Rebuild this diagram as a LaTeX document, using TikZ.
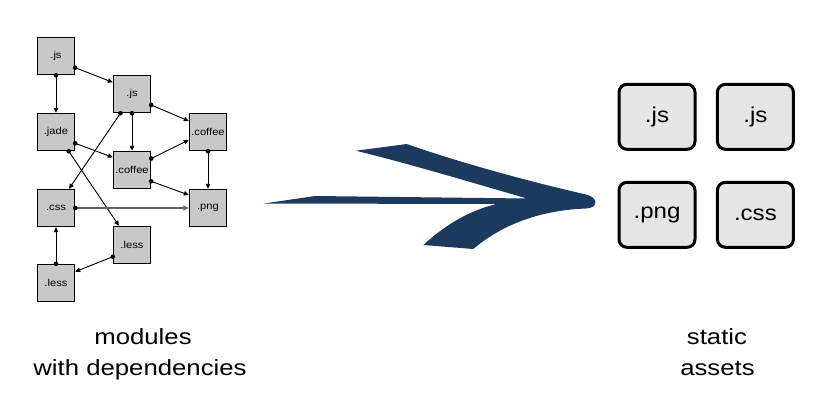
\documentclass[tikz,border=0pt]{standalone}
\usepackage{fontspec}
\setmainfont{Liberation Sans}
\usetikzlibrary{arrows.meta,calc}
\definecolor{boxgray}{RGB}{200,200,200}
\definecolor{bigfill}{RGB}{230,230,230}
\definecolor{navy}{RGB}{28,58,94}
\definecolor{linegray}{RGB}{100,100,100}
\newcommand\wideText[1]{\scalebox{1.12}[1]{#1}}
\newcommand\wideLabel[1]{\scalebox{1.17}[1]{#1}}
\tikzset{
  sbox/.style={draw, line width=1.4pt, fill=boxgray, minimum size=37pt, inner sep=0pt,
    font=\fontsize{10}{12}\selectfont},
  bbox/.style={draw, line width=3pt, rounded corners=8pt, fill=bigfill,
    minimum width=76pt, minimum height=65pt, inner sep=0pt,
    font=\fontsize{21.5}{25}\selectfont},
  dep/.style={line width=0.9pt, -{Triangle[length=5pt,width=4.5pt]}},
  lbl/.style={anchor=base, inner sep=0pt, font=\fontsize{22}{26}\selectfont},
}
\newcommand\depline[3][black]{%
  \draw[dep, draw=#1, fill=#1] #2 -- #3;
  \fill[#1] #2 circle (2.3pt);}
\begin{document}
\begin{tikzpicture}[x=1pt,y=-1pt]
\useasboundingbox (0,0) rectangle (831,416);
% small modules
\node[sbox] (A) at (56,56) {\wideText{.js}};
\node[sbox] (B) at (132,94) {\wideText{.js}};
\node[sbox] (C) at (56,132) {\wideText{.jade}};
\node[sbox] (D) at (208,132) {\wideText{.coffee}};
\node[sbox] (E) at (132,170) {\wideText{.coffee}};
\node[sbox] (F) at (56,208) {\wideText{.css}};
\node[sbox] (G) at (208,208) {\wideText{.png}};
\node[sbox] (H) at (132,245) {\wideText{.less}};
\node[sbox] (I) at (56,283) {\wideText{.less}};
% dependencies
\depline{(A.south)}{(C.north)}
\depline{($(A.east)+(0,11.7)$)}{($(B.west)+(0,-11.7)$)}
\depline{($(B.south)+(-11.5,0)$)}{($(F.north)+(13,0)$)}
\depline{(B.south)}{(E.north)}
\depline{($(B.east)+(0,11)$)}{($(D.west)+(0,-11)$)}
\depline{($(C.east)+(0,11.3)$)}{($(E.west)+(0,-12.7)$)}
\depline{($(C.south)+(12.7,0)$)}{($(H.north)+(-13,0)$)}
\depline{($(E.east)+(0,-11.5)$)}{($(D.west)+(0,8)$)}
\depline{($(E.east)+(0,11.3)$)}{($(G.west)+(0,-13)$)}
\depline{(D.south)}{(G.north)}
\draw[line width=1.6pt, draw=linegray, -{Triangle[length=5.5pt,width=5pt]}] (F.east) -- (G.west);
\fill (F.east) circle (2.3pt);
\depline{($(H.west)+(0,11.7)$)}{($(I.east)+(0,-11.3)$)}
\depline{(I.north)}{(F.south)}
% big arrow
\fill[navy] (264,203.5) -- (315,196) -- (527,198.5)
  .. controls (470,182) and (410,164) .. (356,150.7) -- (406.7,144)
  .. controls (470,166) and (540,184) .. (586,194.5)
  .. controls (598,197) and (599,208) .. (586,208.5)
  .. controls (545,210) and (505,222) .. (473.3,249) -- (423.3,245)
  .. controls (445,225) and (470,210) .. (497,204) -- cycle;
% static assets
\node[bbox] (J1) at (657,116.8) {\wideText{.js}};
\node[bbox] (J2) at (755.4,116.8) {\wideText{.js}};
\node[bbox] (P) at (657,214.8) {\wideText{.png}};
\node[bbox] (S) at (755.4,214.8) {\wideText{.css}};
% labels
\node[lbl] (m1) at (143,344.7) {\wideLabel{modules}};
\node[lbl] (m2) at (140,375) {\wideLabel{with dependencies}};
\node[lbl] (s1) at (717,344.7) {\wideLabel{static}};
\node[lbl] (s2) at (717.5,375) {\wideLabel{assets}};
\end{tikzpicture}
\end{document}
